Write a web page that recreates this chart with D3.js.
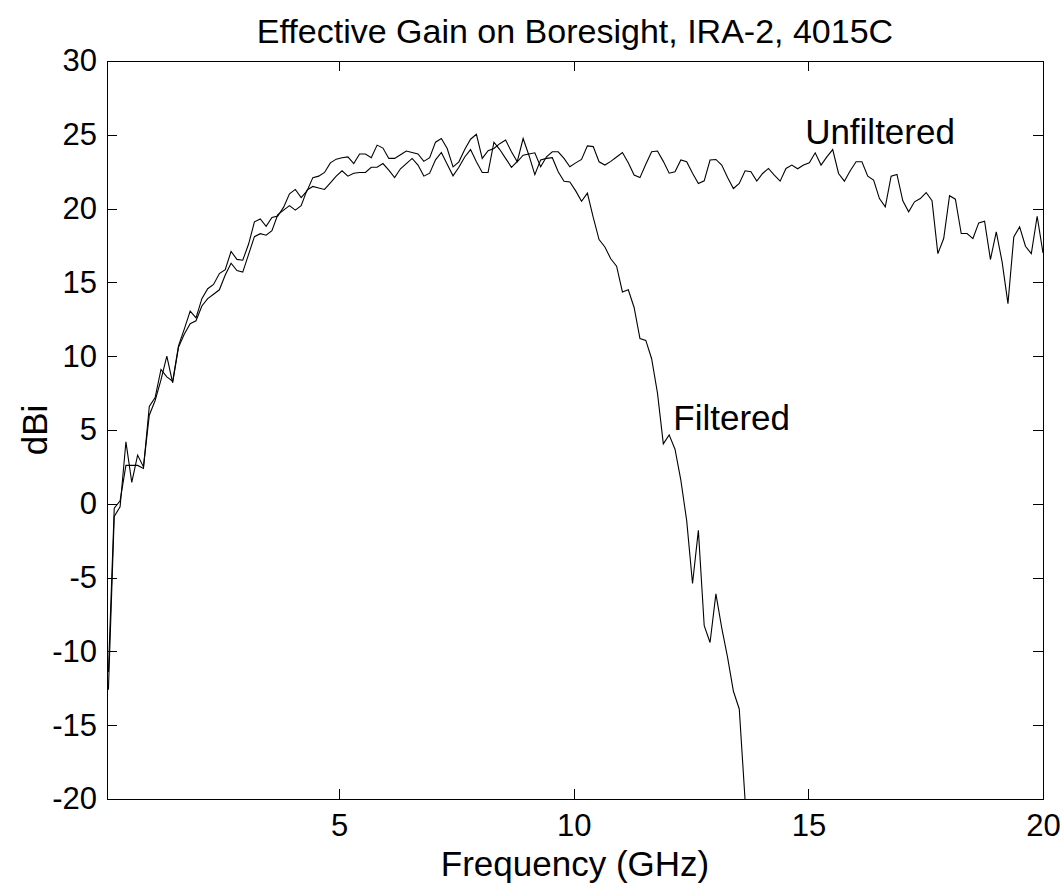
<!DOCTYPE html>
<html>
<head>
<meta charset="utf-8">
<script src="https://cdn.jsdelivr.net/npm/d3@7"></script>
<style>
  html, body { margin: 0; padding: 0; background: #fff; }
  svg { display: block; font-family: "Liberation Sans", Arial, sans-serif; }
</style>
</head>
<body>
<svg id="chart" width="1063" height="886"></svg>
<script>
// Frequency grid (GHz), evenly sampled from first to last value
const freqStart = 0.08, freqEnd = 20;

// Effective gain (dBi) per frequency sample
const unfiltered = [
  -11.4, -0.3, 0.2, 2.6, 2.6, 2.6, 2.4, 6.6, 7.2, 9.1,
  8.6, 8.3, 10.7, 11.85, 13.05, 12.6, 13.9, 14.57, 14.86, 15.6,
  15.86, 17.1, 16.56, 16.5, 17.6, 19.1, 19.3, 18.8, 19.4, 19.5,
  20.1, 21.0, 21.3, 20.75, 21.2, 22.1, 22.2, 22.45, 23.1, 23.35,
  23.45, 23.5, 23.05, 23.7, 23.7, 23.45, 24.3, 24.1, 23.4, 23.4,
  23.65, 23.9, 23.8, 23.7, 23.2, 23.45, 24.5, 24.75, 24.07, 22.83,
  23.17, 24.0, 24.7, 25.03, 23.4, 23.92, 24.07, 24.4, 24.64, 23.85,
  23.17, 23.62, 23.7, 23.78, 22.83, 23.51, 23.85, 23.85, 23.4, 22.83,
  23.1, 23.33, 24.25, 24.2, 23.17, 22.95, 23.2, 23.5, 23.8, 23.1,
  22.27, 22.1, 23.0, 23.85, 23.9, 23.2, 22.4, 22.5, 23.3, 23.17,
  22.4, 21.7, 21.88, 23.29, 23.33, 22.95, 22.1, 21.36, 21.7, 22.56,
  22.5, 21.86, 22.38, 22.72, 22.27, 21.86, 22.72, 22.95, 22.7, 22.95,
  23.1, 23.78, 22.95, 23.5, 24.0, 22.38, 21.86, 22.56, 23.17, 23.17,
  22.2, 21.93, 20.68, 20.12, 22.2, 22.31, 20.53, 19.78, 20.46, 20.68,
  21.09, 20.53, 16.95, 17.97, 20.87, 20.64, 18.31, 18.31, 17.97, 19.03,
  19.15, 16.55, 18.42, 16.39, 13.56, 18.08, 18.76, 17.45, 16.95, 19.48,
  17.0
];
const filtered = [
  -12.6, -0.85, -0.2, 4.2, 1.45, 3.3, 2.5, 6.0, 7.0, 8.4,
  10.0, 8.2, 10.6, 11.5, 12.2, 12.4, 13.4, 13.9, 14.2, 14.5,
  15.5, 16.3, 15.8, 15.7, 16.9, 18.1, 18.3, 18.2, 18.5, 19.6,
  19.9, 20.2, 19.9, 20.2, 21.25, 21.5, 21.4, 21.3, 21.75, 22.2,
  22.56, 22.2, 22.4, 22.45, 22.45, 22.8, 22.8, 23.05, 22.6, 22.1,
  22.7, 23.05, 23.4, 22.95, 22.2, 22.4, 23.3, 23.8, 23.0, 22.22,
  22.8, 23.5, 24.0, 23.17, 22.45, 22.45, 24.5, 24.0, 23.4, 22.8,
  23.2, 24.75, 23.6, 22.3, 23.3, 23.4, 23.45, 22.5, 21.85, 21.8,
  21.2, 20.5, 21.05, 19.4, 17.9, 17.4, 16.6, 16.1, 14.35, 14.5,
  13.3, 11.2, 11.07, 9.83, 7.5, 4.06, 4.67, 3.7, 1.6, -1.14,
  -5.4, -1.8, -8.26, -9.4, -6.1, -8.4, -10.4, -12.7, -13.9, -20.1
];

const xTicks = [5, 10, 15, 20];
const yTicks = [-20, -15, -10, -5, 0, 5, 10, 15, 20, 25, 30];

const W = 1063, H = 886, m = { t: 61, r: 20, b: 87, l: 107 };
const tickPx = 31, labelPx = 35, titlePx = 34;

const step = (freqEnd - freqStart) / (unfiltered.length - 1);
const freq = unfiltered.map((_, i) => freqStart + i * step);

const svg = d3.select('#chart');
const x = d3.scaleLinear().domain([0.05, 20]).range([m.l, W - m.r]);
const y = d3.scaleLinear().domain([-20, 30]).range([H - m.b, m.t]);

svg.append('defs').append('clipPath').attr('id', 'plot')
  .append('rect')
  .attr('x', m.l).attr('y', m.t)
  .attr('width', W - m.r - m.l).attr('height', H - m.b - m.t);

// axes with inward ticks on all four sides (matlab style box)
function styleAxis(g) {
  g.select('.domain').remove();
  g.selectAll('line').attr('stroke', '#000').attr('shape-rendering', 'crispEdges');
  g.selectAll('text').attr('fill', '#000').style('font-size', tickPx + 'px');
}
svg.append('g').attr('transform', `translate(0,${H - m.b})`)
  .call(d3.axisBottom(x).tickValues(xTicks).tickSize(-10).tickPadding(15).tickFormat(d3.format('d')))
  .call(styleAxis);
svg.append('g').attr('transform', `translate(0,${m.t})`)
  .call(d3.axisTop(x).tickValues(xTicks).tickSize(-10).tickFormat(''))
  .call(styleAxis);
svg.append('g').attr('transform', `translate(${m.l},0)`)
  .call(d3.axisLeft(y).tickValues(yTicks).tickSize(-10).tickPadding(10).tickFormat(d => d3.format('d')(d).replace('−', '-')))
  .call(styleAxis);
svg.append('g').attr('transform', `translate(${W - m.r},0)`)
  .call(d3.axisRight(y).tickValues(yTicks).tickSize(-10).tickFormat(''))
  .call(styleAxis);

svg.append('rect')
  .attr('x', m.l).attr('y', m.t)
  .attr('width', W - m.r - m.l).attr('height', H - m.b - m.t)
  .attr('fill', 'none').attr('stroke', '#000').attr('stroke-width', 1)
  .attr('shape-rendering', 'crispEdges');

const line = d3.line().x((d, i) => x(freq[i])).y(d => y(d));
const plot = svg.append('g').attr('clip-path', 'url(#plot)');
[unfiltered, filtered].forEach(series => {
  plot.append('path')
    .datum(series)
    .attr('fill', 'none')
    .attr('stroke', '#000')
    .attr('stroke-width', 1.1)
    .attr('stroke-linejoin', 'miter')
    .attr('d', line);
});

// curve labels
svg.append('text').attr('x', x(14.93)).attr('y', y(25.2)).attr('dy', '0.35em')
  .style('font-size', labelPx + 'px').text('Unfiltered');
svg.append('text').attr('x', x(12.12)).attr('y', y(5.8)).attr('dy', '0.35em')
  .style('font-size', labelPx + 'px').text('Filtered');

// title and axis labels
svg.append('text').attr('x', (m.l + W - m.r) / 2).attr('y', 43)
  .attr('text-anchor', 'middle').style('font-size', titlePx + 'px')
  .text('Effective Gain on Boresight, IRA-2, 4015C');
svg.append('text').attr('x', (m.l + W - m.r) / 2).attr('y', 876)
  .attr('text-anchor', 'middle').style('font-size', labelPx + 'px')
  .text('Frequency (GHz)');
svg.append('text')
  .attr('transform', `translate(47,${(m.t + H - m.b) / 2}) rotate(-90)`)
  .attr('text-anchor', 'middle').style('font-size', labelPx + 'px')
  .text('dBi');
</script>
</body>
</html>
